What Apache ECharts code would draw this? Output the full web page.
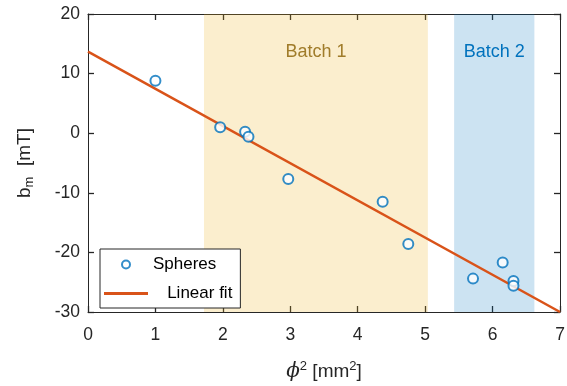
<!DOCTYPE html>
<html style="height: 100%">
<head>
    <meta charset="utf-8">
</head>
<body style="height: 100%; margin: 0; background: #fff">
    <div id="container" style="width: 567px; height: 386px"></div>
    <script type="text/javascript" src="https://cdn.jsdelivr.net/npm/echarts@6/dist/echarts.min.js"></script>
    <script type="text/javascript">
        // measured points (phi^2 [mm^2], b_m [mT])
        var sphereX = [1.0, 1.96, 2.33, 2.38, 2.97, 4.37, 4.75, 5.71, 6.15, 6.31, 6.31];
        var sphereY = [8.8, 1.0, 0.25, -0.6, -7.7, -11.5, -18.6, -24.4, -21.7, -24.8, -25.6];
        // linear fit end points
        var fitX = [0, 7];
        var fitY = [13.7, -30];
        // shaded batches
        var batchNames = ['Batch 1', 'Batch 2'];
        var batchFrom = [1.72, 5.43];
        var batchTo = [5.04, 6.62];
        var batchFill = ['rgba(237,177,32,0.22)', 'rgba(0,114,189,0.2)'];
        var batchText = ['#A07C2A', '#0072BD'];

        var dom = document.getElementById('container');
        var myChart = echarts.init(dom);
        var axisColor = '#262626';
        var font = 'Liberation Sans, Arial, sans-serif';

        var spheres = sphereX.map(function (x, i) { return [x, sphereY[i]]; });
        var fit = fitX.map(function (x, i) { return [x, fitY[i]]; });
        var areas = batchNames.map(function (name, i) {
            return [{
                name: name,
                xAxis: batchFrom[i],
                itemStyle: { color: batchFill[i] },
                label: { color: batchText[i] }
            }, { xAxis: batchTo[i] }];
        });

        // fresh objects for every axis
        function tick() {
            return { show: true, inside: true, length: 6, lineStyle: { color: axisColor, width: 1.3 } };
        }
        function axLine() {
            return { show: true, onZero: false, lineStyle: { color: axisColor, width: 1 } };
        }
        function noSplit() {
            return { show: true, lineStyle: { opacity: 0 } };
        }

        var option = {
            animation: false,
            textStyle: { fontFamily: font },
            grid: { left: 88, right: 7, top: 14, bottom: 74, containLabel: false, outerBoundsMode: 'none' },
            legend: {
                left: 100, top: 249, z: 10,
                orient: 'vertical',
                backgroundColor: '#fff',
                borderColor: axisColor,
                borderWidth: 1,
                borderRadius: 0,
                padding: [7, 8, 6, 4],
                itemWidth: 44, itemHeight: 8, itemGap: 12,
                textStyle: { fontSize: 17, color: '#000', fontFamily: font },
                formatter: function (name) {
                    return name === 'Linear fit' ? '   ' + name : name;
                },
                data: [
                    { name: 'Spheres', icon: 'emptyCircle' },
                    { name: 'Linear fit', icon: 'path://M0,0 L44,0 L44,3 L0,3 Z' }
                ]
            },
            xAxis: [{
                type: 'value', min: 0, max: 7, interval: 1,
                name: '{i|ϕ}{s|2} [mm{s|2}]',
                nameLocation: 'middle', nameGap: 48,
                nameTextStyle: {
                    fontSize: 19, color: axisColor,
                    rich: {
                        i: { fontSize: 20, fontStyle: 'italic', fontFamily: 'DejaVu Serif', color: axisColor },
                        s: { fontSize: 13, verticalAlign: 'top', padding: [0, 0, 10, 0], color: axisColor }
                    }
                },
                axisLine: axLine(),
                axisTick: tick(),
                axisLabel: { fontSize: 17.5, color: axisColor, margin: 14 },
                splitLine: noSplit()
            }, {
                type: 'value', min: 0, max: 7, interval: 1, position: 'top',
                axisLine: axLine(),
                axisTick: tick(),
                axisLabel: { show: false },
                splitLine: noSplit()
            }],
            yAxis: [{
                type: 'value', min: -30, max: 20, interval: 10,
                name: 'b{s|m}  [mT]',
                nameLocation: 'middle', nameGap: 52,
                nameTextStyle: {
                    fontSize: 19, color: axisColor,
                    rich: { s: { fontSize: 13, verticalAlign: 'bottom', padding: [10, 0, 0, 0], color: axisColor } }
                },
                axisLine: axLine(),
                axisTick: tick(),
                axisLabel: { fontSize: 17.5, color: axisColor, margin: 8 },
                splitLine: noSplit()
            }, {
                type: 'value', min: -30, max: 20, interval: 10, position: 'right',
                axisLine: axLine(),
                axisTick: tick(),
                axisLabel: { show: false },
                splitLine: noSplit()
            }],
            series: [{
                name: 'Spheres',
                type: 'scatter',
                data: spheres,
                symbol: 'emptyCircle',
                symbolSize: 10,
                itemStyle: { color: '#0072BD', borderColor: '#0072BD', borderWidth: 2.6 },
                z: 2
            }, {
                name: 'Linear fit',
                type: 'line',
                data: fit,
                symbol: 'none',
                lineStyle: { color: '#D95319', width: 2.5 },
                itemStyle: { color: '#D95319' },
                z: 2
            }, {
                name: 'batches',
                type: 'line',
                data: [],
                z: 5,
                markArea: {
                    silent: true,
                    label: {
                        show: true, position: 'insideTop', distance: 29,
                        fontSize: 18, fontFamily: font
                    },
                    data: areas
                }
            }]
        };

        myChart.setOption(option);
    </script>
</body>
</html>
